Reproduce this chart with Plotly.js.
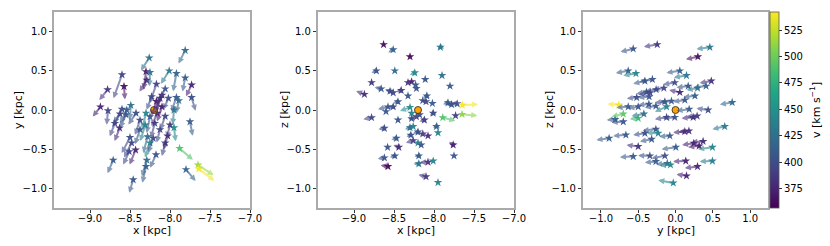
<!DOCTYPE html>
<html>
<head>
<meta charset="utf-8">
<script src="https://cdn.plot.ly/plotly-3.0.1.min.js"></script>
<style>
  html, body { margin: 0; padding: 0; background: #fff; }
  #chart { width: 830px; height: 246px; }
</style>
</head>
<body>
<div id="chart"></div>
<script>
// ---------------- DATA ----------------
// Sun position (Galactocentric, kpc)
const sunX = -8.2, sunY = 0.0, sunZ = 0.0;

// Panel 1: x-y plane (positions in kpc, velocity components in km/s, speed in km/s)
const p1X  = [-7.81,-8.26,-8.01,-7.92,-7.81,-7.73,-7.73,-8.60,-8.575,-8.78,-8.87,-8.30,-8.25,-8.29,-8.17,-8.06,-7.92,-7.89,-8.775,-8.60,-8.49,-8.425,-8.625,-8.55,-8.30,-8.25,-8.16,-8.10,-8.06,-7.95,-7.95,-7.75,-8.63,-8.50,-8.48,-8.43,-8.375,-8.31,-8.28,-8.25,-8.21,-8.125,-8.03,-8.06,-8.175,-8.29,-8.30,-8.71,-8.46,-7.88,-7.65,-7.64,-7.80,-8.51,-8.54,-8.69,-8.23,-8.125,-8.02,-8.375,-8.19,-8.0,-8.10,-8.17];
const p1Y  = [0.76,0.665,0.50,0.466,0.41,0.32,0.16,0.45,0.30,0.26,0.04,0.49,0.48,0.38,0.33,0.27,0.16,0.12,-0.01,0.01,0.06,-0.04,-0.05,-0.06,-0.04,-0.085,-0.04,0.04,-0.08,0.0,-0.225,-0.15,-0.23,-0.35,-0.42,-0.51,-0.25,-0.19,-0.34,-0.42,-0.36,-0.25,-0.33,-0.42,-0.57,-0.64,-0.72,-0.64,-0.89,-0.49,-0.70,-0.75,-0.76,-0.53,0.0,-0.17,0.17,0.15,0.15,-0.13,-0.17,-0.19,0.19,0.11];
const p1Vx = [-180,-225,-225,-90,-72,-153,108,-230,27,-225,-207,-63,-18,-198,-180,-225,-135,-63,-36,-225,-27,-207,-198,-162,-108,-90,-153,-135,-135,-36,45,72,-135,-225,-207,-162,-135,-135,-117,-135,-135,-90,-108,-90,-162,-135,-99,-153,-108,360,423,423,261,-162,-180,-135,-135,-135,-135,-135,-108,-90,-153,-135];
const p1Vy = [-360,-350,-360,-495,-378,-315,-369,-650,-360,-288,-270,-495,-387,-315,-522,-432,-387,-342,-387,-387,-405,-315,-342,-360,-450,-450,-360,-405,-378,-405,-378,-387,-360,-432,-405,-405,-405,-450,-450,-405,-405,-360,-378,-360,-360,-450,-450,-360,-360,-315,-288,-333,-315,-360,-360,-360,-360,-405,-315,-405,-405,-360,-405,-405];
const p1V  = [420,425,430,415,410,375,400,395,365,385,375,368,425,380,395,405,410,420,395,400,425,400,395,405,440,405,380,370,395,430,445,410,380,400,395,375,405,440,420,445,400,395,375,395,405,420,410,410,405,490,515,540,415,395,410,395,400,380,400,400,395,390,375,370];

// Panel 2: x-z plane
const p2X  = [-8.63,-8.51,-8.30,-7.92,-8.72,-8.49,-8.24,-7.90,-8.78,-8.66,-8.55,-8.51,-8.41,-8.325,-8.28,-8.23,-8.22,-8.11,-7.80,-8.87,-8.325,-8.09,-8.45,-8.14,-8.10,-8.02,-8.30,-8.28,-8.575,-8.51,-7.825,-7.78,-7.71,-7.645,-7.65,-7.89,-7.73,-8.60,-8.78,-8.45,-8.28,-8.22,-8.18,-8.12,-8.01,-8.62,-8.30,-8.26,-7.97,-7.95,-8.47,-8.20,-8.14,-8.075,-8.29,-8.26,-8.20,-8.16,-8.58,-8.44,-7.76,-7.75,-8.49,-8.62,-8.19,-8.01,-8.075,-8.19,-8.575,-8.10,-7.95];
const p2Z  = [0.835,0.77,0.68,0.80,0.50,0.50,0.475,0.44,0.35,0.27,0.24,0.22,0.25,0.35,0.36,0.32,0.275,0.39,0.305,0.20,0.18,0.18,0.106,0.12,0.106,0.085,0.034,-0.04,0.04,0.04,0.093,0.07,0.08,0.064,-0.055,-0.097,-0.072,-0.02,-0.097,-0.127,-0.11,-0.085,-0.06,-0.127,-0.04,-0.233,-0.225,-0.21,-0.21,-0.29,-0.36,-0.28,-0.305,-0.33,-0.32,-0.39,-0.42,-0.445,-0.475,-0.475,-0.445,-0.585,-0.585,-0.61,-0.585,-0.65,-0.665,-0.685,-0.72,-0.85,-0.925];
const p2Vx = [-20,-135,-10,-81,-135,-20,-135,-72,-10,-180,-135,-20,-135,-30,-20,-30,-30,-20,-72,-225,-20,-108,-135,-30,-20,-20,-270,-20,-270,-117,-135,-135,-180,423,414,342,-20,-20,-225,-20,-90,-20,-30,-135,-90,-162,-135,-20,-90,-20,-135,-135,-30,-30,-117,-198,-20,-20,-20,-144,-108,-20,-135,-180,-117,-20,-225,-144,-198,-207,-20];
const p2Vz = [0,-81,0,-54,-63,-10,-63,-63,0,45,45,0,-45,20,0,0,0,0,-36,90,0,-45,-45,0,0,0,-99,0,-63,-54,-45,-20,10,18,-36,-90,0,0,-45,0,-10,0,0,-45,-72,-27,-45,0,-45,0,-45,-36,0,0,-45,-63,0,0,0,63,90,10,-36,-27,-18,0,0,-9,36,54,0];
const p2V  = [362,415,360,430,405,420,445,425,385,405,400,395,390,385,375,410,405,405,410,380,405,410,405,405,395,410,445,440,405,400,410,405,400,540,510,490,390,405,395,405,400,395,400,390,400,400,425,440,415,440,410,400,390,380,405,390,440,405,405,380,375,405,405,405,410,440,385,430,360,385,440];

// Panel 3: y-z plane
const p3Y  = [-0.245,-0.567,0.46,0.30,-0.634,-0.53,0.058,0.147,-0.31,-0.41,-0.01,0.48,0.41,0.17,0.295,-0.26,-0.156,-0.39,-0.34,0.058,0.26,-0.52,-0.353,0.125,0.76,-0.054,-0.143,-0.357,-0.76,-0.634,-0.50,-0.263,-0.12,0.183,0.4375,-0.424,-0.70,-0.50,-0.12,-0.01,0.237,0.29,-0.81,-0.70,-0.263,-0.232,-0.076,0.125,0.18,0.66,-0.89,-0.665,-0.32,-0.41,-0.50,0.245,0.37,0.317,0.005,0.495,-0.567,-0.344,-0.143,-0.263,-0.11,-0.067,0.495,0.138,0.295,0.147,-0.03];
const p3Z  = [0.835,0.78,0.80,0.68,0.50,0.466,0.50,0.44,0.39,0.37,0.35,0.37,0.305,0.305,0.28,0.26,0.28,0.23,0.22,0.225,0.18,0.16,0.17,0.127,0.097,0.114,0.106,0.076,0.064,0.042,0.042,0.05,0.042,0.01,0.0,-0.05,-0.05,-0.106,-0.093,-0.093,-0.093,-0.076,-0.12,-0.15,-0.245,-0.297,-0.33,-0.275,-0.267,-0.21,-0.36,-0.318,-0.373,-0.297,-0.466,-0.424,-0.40,-0.458,-0.475,-0.475,-0.593,-0.585,-0.585,-0.657,-0.68,-0.70,-0.65,-0.65,-0.72,-0.84,-0.93];
const p3Vy = [-388,-369,-388,-349,-359,-369,-388,-369,-369,-340,-340,-340,-369,-340,-320,-320,-310,-290,-340,-310,-340,-290,-320,-340,-359,-340,-290,-310,-330,-340,-290,-320,-340,-369,-340,-359,-340,-243,-340,-340,-340,-310,-243,-340,-388,-340,-310,-340,-310,-359,-369,-369,-340,-340,-340,-340,-340,-320,-417,-417,-388,-340,-388,-320,-330,-310,-369,-369,-369,-290,-436];
const p3Vz = [-64,-83,-46,-74,-64,-55,-55,-55,-64,-74,-55,-55,-37,-37,-55,-46,-46,-46,-55,64,-37,-28,-28,-46,-55,-46,-28,-28,28,-28,-46,-37,-138,-46,46,-55,-74,-18,-55,-28,-28,-18,-18,-18,-37,18,-18,-28,-28,-74,-46,-28,-64,-46,46,-46,-28,-37,-55,-55,-18,9,-64,-28,-28,-18,-18,-18,-46,46,74];
const p3V  = [385,405,430,365,410,440,410,430,405,410,400,385,415,405,430,400,395,405,395,378,410,400,405,405,420,410,400,405,540,410,405,405,440,410,400,425,495,480,395,400,380,390,410,405,405,440,410,375,385,430,410,410,405,400,385,375,380,370,410,440,410,400,400,410,420,440,435,375,375,375,440];

// Tick labels
const posTicks = [-9.0,-8.5,-8.0,-7.5,-7.0];
const offTicks = [-1.0,-0.5,0.0,0.5,1.0];
const cbTicks  = [375,400,425,450,475,500,525];
const vMin = 357, vMax = 542;

// ---------------- STYLE ----------------
const quiverScale = 4.6e-4; // kpc per km/s
const viridis = [[0,'#440154'],[0.1,'#482475'],[0.2,'#414487'],[0.3,'#355f8d'],[0.4,'#2a788e'],
                 [0.5,'#21918c'],[0.6,'#22a884'],[0.7,'#44bf70'],[0.8,'#7ad151'],[0.9,'#bddf26'],[1,'#fde725']];
function hex2rgb(h){return [parseInt(h.slice(1,3),16),parseInt(h.slice(3,5),16),parseInt(h.slice(5,7),16)];}
function vcol(v, a){
  let t = (v - vMin)/(vMax - vMin); t = Math.max(0, Math.min(1, t));
  for (let i = 0; i < viridis.length-1; i++){
    const [t0,c0] = viridis[i], [t1,c1] = viridis[i+1];
    if (t <= t1){
      const f = (t - t0)/(t1 - t0), a0 = hex2rgb(c0), a1 = hex2rgb(c1);
      const r = a0.map((q,k)=>Math.round(q + f*(a1[k]-q)));
      return `rgba(${r[0]},${r[1]},${r[2]},${a})`;
    }
  }
  return `rgba(253,231,37,${a})`;
}

const FONT = 'DejaVu Sans, sans-serif';
const W = 830, H = 246;
const annotations = [];
function arrows(xs, ys, us, vs, cs, xr, yr){
  for (let i = 0; i < xs.length; i++){
    const dx = us[i]*quiverScale, dy = vs[i]*quiverScale;
    if (Math.hypot(dx, dy) < 0.025) continue;
    annotations.push({
      x: xs[i] + dx, y: ys[i] + dy, ax: xs[i], ay: ys[i],
      xref: xr, yref: yr, axref: xr, ayref: yr,
      text: '', showarrow: true, arrowhead: 2, arrowsize: 0.6, arrowwidth: 2,
      arrowcolor: vcol(cs[i], 0.6), standoff: 0, startstandoff: 0
    });
  }
}
arrows(p1X, p1Y, p1Vx, p1Vy, p1V, 'x', 'y');
arrows(p2X, p2Z, p2Vx, p2Vz, p2V, 'x2', 'y2');
arrows(p3Y, p3Z, p3Vy, p3Vz, p3V, 'x3', 'y3');

// axis titles (placed as paper annotations for exact offsets)
function label(text, x, y, angle){
  annotations.push({text: text, x: x/W, y: 1 - y/H, xref: 'paper', yref: 'paper',
    xanchor: 'center', yanchor: 'middle', showarrow: false, textangle: angle || 0,
    font: {family: FONT, size: 11, color: '#000'}});
}
label('x [kpc]', 152, 230);
label('x [kpc]', 416, 230);
label('y [kpc]', 675.5, 230);
label('y [kpc]', 18, 110, -90);
label('z [kpc]', 284, 110, -90);
label('z [kpc]', 549, 110, -90);
label('v [km s<sup>−1</sup>]', 815, 110, -90);

function starTrace(xs, ys, cs, xa, ya, showScale){
  return {
    type: 'scatter', mode: 'markers', x: xs, y: ys, xaxis: xa, yaxis: ya,
    hoverinfo: 'skip', showlegend: false,
    marker: {
      symbol: 'star', size: 6.5, color: cs, colorscale: viridis, cmin: vMin, cmax: vMax,
      opacity: 0.95, line: {width: 0},
      showscale: showScale,
      colorbar: showScale ? {
        x: 770/W, xanchor: 'left', xref: 'paper', xpad: 0,
        y: 1 - 110/H, yanchor: 'middle', yref: 'paper', ypad: 0,
        len: 196/H, lenmode: 'fraction', thickness: 9,
        outlinewidth: 0.8, outlinecolor: '#555',
        tickvals: cbTicks, ticks: 'outside', ticklen: 3, tickcolor: '#333',
        tickfont: {family: FONT, size: 10, color: '#000'}
      } : undefined
    }
  };
}
function sunTrace(x, y, xa, ya){
  return {type:'scatter', mode:'markers', x:[x], y:[y], xaxis: xa, yaxis: ya, hoverinfo:'skip', showlegend:false,
    marker:{symbol:'circle', size:7, color:'#ffa500', line:{color:'#222', width:0.8}}};
}

const data = [
  starTrace(p1X, p1Y, p1V, 'x', 'y', false),
  starTrace(p2X, p2Z, p2V, 'x2', 'y2', false),
  starTrace(p3Y, p3Z, p3V, 'x3', 'y3', true),
  sunTrace(sunX, sunY, 'x', 'y'),
  sunTrace(sunX, sunZ, 'x2', 'y2'),
  sunTrace(sunY, sunZ, 'x3', 'y3')
];

const yDom = [38/H, 234/H];
function ax(dom, range, ticks, anchor, isX){
  return {
    domain: dom, range: range, anchor: anchor, tickvals: ticks, tickformat: '.1f',
    showgrid: false, zeroline: false, showline: true, mirror: true,
    linecolor: '#aaaaaa', linewidth: 1.6,
    ticks: 'outside', ticklen: 3.5, tickwidth: 1, tickcolor: '#333',
    ticklabelstandoff: isX ? -3 : 0,
    tickfont: {family: FONT, size: 10, color: '#000'},
    automargin: false, fixedrange: true
  };
}

const layout = {
  width: W, height: H,
  margin: {l: 0, r: 0, t: 0, b: 0},
  paper_bgcolor: '#fff', plot_bgcolor: '#fff',
  font: {family: FONT, size: 10, color: '#000'},
  showlegend: false,
  xaxis:  ax([54/W, 250/W], [-9.45, -7.0], posTicks, 'y', true),
  yaxis:  ax(yDom, [-1.25, 1.25], offTicks, 'x', false),
  xaxis2: ax([318/W, 514/W], [-9.45, -7.0], posTicks, 'y2', true),
  yaxis2: ax(yDom, [-1.25, 1.25], offTicks, 'x2', false),
  xaxis3: ax([583/W, 768/W], [-1.24, 1.24], offTicks, 'y3', true),
  yaxis3: ax(yDom, [-1.25, 1.25], offTicks, 'x3', false),
  annotations: annotations
};

Plotly.newPlot('chart', data, layout, {displayModeBar: false, staticPlot: true});
</script>
</body>
</html>
